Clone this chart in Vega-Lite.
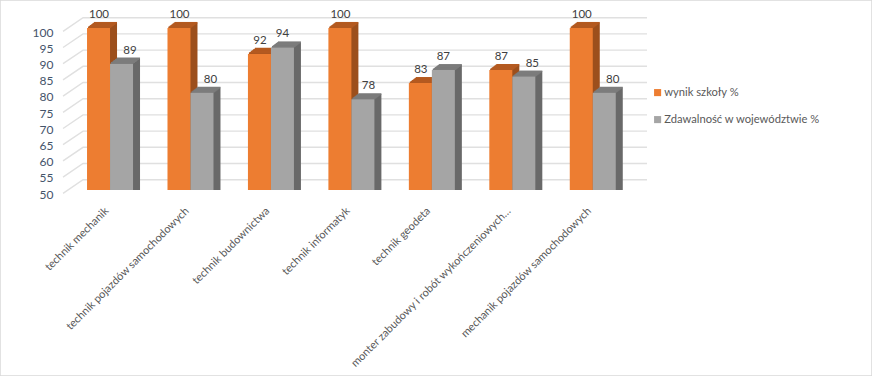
{"$schema":"https://vega.github.io/schema/vega-lite/v6.json","width":872,"height":376,"padding":0,"autosize":{"type":"none"},"background":"white","config":{"view":{"stroke":"#D9D9D9","strokeWidth":1.5},"font":"Lato"},
"datasets":{"d":[
{"k":"technik mechanik","s":"wynik szkoły %","v":100},{"k":"technik mechanik","s":"Zdawalność w województwie %","v":89},
{"k":"technik pojazdów samochodowych","s":"wynik szkoły %","v":100},{"k":"technik pojazdów samochodowych","s":"Zdawalność w województwie %","v":80},
{"k":"technik budownictwa","s":"wynik szkoły %","v":92},{"k":"technik budownictwa","s":"Zdawalność w województwie %","v":94},
{"k":"technik informatyk","s":"wynik szkoły %","v":100},{"k":"technik informatyk","s":"Zdawalność w województwie %","v":78},
{"k":"technik geodeta","s":"wynik szkoły %","v":83},{"k":"technik geodeta","s":"Zdawalność w województwie %","v":87},
{"k":"monter zabudowy i robót wykończeniowych…","s":"wynik szkoły %","v":87},{"k":"monter zabudowy i robót wykończeniowych…","s":"Zdawalność w województwie %","v":85},
{"k":"mechanik pojazdów samochodowych","s":"wynik szkoły %","v":100},{"k":"mechanik pojazdów samochodowych","s":"Zdawalność w województwie %","v":80}],
"g":[{"p":50},{"p":55},{"p":60},{"p":65},{"p":70},{"p":75},{"p":80},{"p":85},{"p":90},{"p":95},{"p":100}]},
"data":{"name":"d"},
"encoding":{
"x":{"field":"k","type":"nominal","sort":null,"scale":{"domain":["technik mechanik","technik pojazdów samochodowych","technik budownictwa","technik informatyk","technik geodeta","monter zabudowy i robót wykończeniowych…","mechanik pojazdów samochodowych"],"range":[69.8,633],"paddingInner":0,"paddingOuter":0},"axis":{"title":null,"orient":"bottom","offset":-176,"domain":false,"ticks":false,"grid":false,"labelAngle":-45,"labelAlign":"right","labelBaseline":"middle","labelPadding":9,"labelOffset":-3,"labelLimit":0,"labelOverlap":false,"labelFont":"Lato","labelFontSize":11,"labelColor":"#595959"}},
"y":{"field":"v","type":"quantitative","scale":{"domain":[50,100],"range":[190,28],"zero":false,"nice":false},"axis":{"title":null,"orient":"left","offset":-53,"domain":false,"ticks":false,"grid":false,"values":[50,55,60,65,70,75,80,85,90,95,100],"labelPadding":0,"labelOffset":4,"labelFont":"Lato","labelFontSize":12,"labelColor":"#44546A"}}},
"layer":[
{"data":{"name":"g"},"mark":{"type":"point","shape":"M-47,3.3L-27,-10.3L537,-10.3","size":4,"filled":false,"stroke":"#E0E0E0","strokeWidth":1.4,"opacity":1},"encoding":{"x":{"datum":"technik mechanik"},"y":{"field":"p","type":"quantitative"}}},
{"transform":[{"filter":"datum.s==='wynik szkoły %'"}],"encoding":{"y2":{"datum":50}},"layer":[
{"mark":{"type":"bar","width":23,"xOffset":-10.5,"yOffset":-0.8,"fill":"#9C4F1C"}},{"mark":{"type":"bar","width":23,"xOffset":-9.5,"yOffset":-1.5,"fill":"#9C4F1C"}},{"mark":{"type":"bar","width":23,"xOffset":-8.5,"yOffset":-2.3,"fill":"#9C4F1C"}},{"mark":{"type":"bar","width":23,"xOffset":-7.5,"yOffset":-3,"fill":"#9C4F1C"}},{"mark":{"type":"bar","width":23,"xOffset":-6.5,"yOffset":-3.8,"fill":"#9C4F1C"}},{"mark":{"type":"bar","width":23,"xOffset":-5.5,"yOffset":-4.5,"fill":"#9C4F1C"}},{"mark":{"type":"bar","width":23,"xOffset":-4.5,"yOffset":-5.3,"fill":"#9C4F1C"}},
{"mark":{"type":"tick","size":23,"thickness":1.5,"xOffset":-10.5,"yOffset":-0.8,"color":"#B45A20","opacity":1},"encoding":{"y2":null}},{"mark":{"type":"tick","size":23,"thickness":1.5,"xOffset":-9.5,"yOffset":-1.5,"color":"#B45A20","opacity":1},"encoding":{"y2":null}},{"mark":{"type":"tick","size":23,"thickness":1.5,"xOffset":-8.5,"yOffset":-2.3,"color":"#B45A20","opacity":1},"encoding":{"y2":null}},{"mark":{"type":"tick","size":23,"thickness":1.5,"xOffset":-7.5,"yOffset":-3,"color":"#B45A20","opacity":1},"encoding":{"y2":null}},{"mark":{"type":"tick","size":23,"thickness":1.5,"xOffset":-6.5,"yOffset":-3.8,"color":"#B45A20","opacity":1},"encoding":{"y2":null}},{"mark":{"type":"tick","size":23,"thickness":1.5,"xOffset":-5.5,"yOffset":-4.5,"color":"#B45A20","opacity":1},"encoding":{"y2":null}},{"mark":{"type":"tick","size":23,"thickness":1.5,"xOffset":-4.5,"yOffset":-5.3,"color":"#B45A20","opacity":1},"encoding":{"y2":null}},
{"mark":{"type":"bar","width":23,"xOffset":-11.5},"encoding":{"color":{"field":"s","type":"nominal","scale":{"domain":["wynik szkoły %","Zdawalność w województwie %"],"range":["#ED7D31","#A5A5A5"]},"legend":{"title":null,"orient":"none","legendX":652,"legendY":87,"symbolType":"square","symbolSize":50,"rowPadding":15,"labelOffset":1,"labelFont":"Lato","labelFontSize":11.2,"labelColor":"#595959","labelLimit":0,"symbolStrokeWidth":0}}}}]},
{"transform":[{"filter":"datum.s!=='wynik szkoły %'"}],"encoding":{"y2":{"datum":50}},"layer":[
{"mark":{"type":"bar","width":23,"xOffset":12.5,"yOffset":-0.8,"fill":"#696969"}},{"mark":{"type":"bar","width":23,"xOffset":13.5,"yOffset":-1.5,"fill":"#696969"}},{"mark":{"type":"bar","width":23,"xOffset":14.5,"yOffset":-2.3,"fill":"#696969"}},{"mark":{"type":"bar","width":23,"xOffset":15.5,"yOffset":-3,"fill":"#696969"}},{"mark":{"type":"bar","width":23,"xOffset":16.5,"yOffset":-3.8,"fill":"#696969"}},{"mark":{"type":"bar","width":23,"xOffset":17.5,"yOffset":-4.5,"fill":"#696969"}},{"mark":{"type":"bar","width":23,"xOffset":18.5,"yOffset":-5.3,"fill":"#696969"}},
{"mark":{"type":"tick","size":23,"thickness":1.5,"xOffset":12.5,"yOffset":-0.8,"color":"#7C7C7C","opacity":1},"encoding":{"y2":null}},{"mark":{"type":"tick","size":23,"thickness":1.5,"xOffset":13.5,"yOffset":-1.5,"color":"#7C7C7C","opacity":1},"encoding":{"y2":null}},{"mark":{"type":"tick","size":23,"thickness":1.5,"xOffset":14.5,"yOffset":-2.3,"color":"#7C7C7C","opacity":1},"encoding":{"y2":null}},{"mark":{"type":"tick","size":23,"thickness":1.5,"xOffset":15.5,"yOffset":-3,"color":"#7C7C7C","opacity":1},"encoding":{"y2":null}},{"mark":{"type":"tick","size":23,"thickness":1.5,"xOffset":16.5,"yOffset":-3.8,"color":"#7C7C7C","opacity":1},"encoding":{"y2":null}},{"mark":{"type":"tick","size":23,"thickness":1.5,"xOffset":17.5,"yOffset":-4.5,"color":"#7C7C7C","opacity":1},"encoding":{"y2":null}},{"mark":{"type":"tick","size":23,"thickness":1.5,"xOffset":18.5,"yOffset":-5.3,"color":"#7C7C7C","opacity":1},"encoding":{"y2":null}},
{"mark":{"type":"bar","width":23,"xOffset":11.5},"encoding":{"color":{"field":"s","type":"nominal"}}}]},
{"transform":[{"filter":"datum.s==='wynik szkoły %'"}],"mark":{"type":"text","xOffset":-11,"yOffset":-13,"fontSize":11.5,"font":"Lato","color":"#404040"},"encoding":{"text":{"field":"v","type":"quantitative"}}},
{"transform":[{"filter":"datum.s!=='wynik szkoły %' && (datum.v===94||datum.v===87)"}],"mark":{"type":"text","xOffset":11.5,"yOffset":-13,"fontSize":11.5,"font":"Lato","color":"#404040"},"encoding":{"text":{"field":"v","type":"quantitative"}}},
{"transform":[{"filter":"datum.s!=='wynik szkoły %' && datum.v===78"}],"mark":{"type":"text","xOffset":17,"yOffset":-13,"fontSize":11.5,"font":"Lato","color":"#404040"},"encoding":{"text":{"field":"v","type":"quantitative"}}},
{"transform":[{"filter":"datum.s!=='wynik szkoły %' && datum.v!==94 && datum.v!==87 && datum.v!==78"}],"mark":{"type":"text","xOffset":20,"yOffset":-12.5,"fontSize":11.5,"font":"Lato","color":"#404040"},"encoding":{"text":{"field":"v","type":"quantitative"}}}
]}
